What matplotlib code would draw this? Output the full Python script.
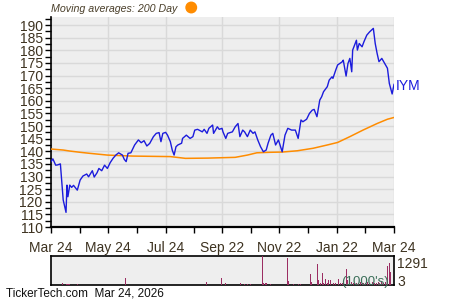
import numpy as np
import matplotlib
matplotlib.use('Agg')
import matplotlib.pyplot as plt
from matplotlib.patches import Ellipse

plt.rcParams['font.family'] = ['Liberation Sans', 'DejaVu Sans']

# data (day offsets from Mar 24)

price_days = [0, 2, 5, 7, 10, 13, 16, 17, 18, 20, 22, 24, 28, 31, 34, 38, 40, 44, 46, 49,
              51, 54, 57, 60, 63, 66, 69, 72, 76, 78, 80, 82, 85, 89, 93, 96, 99, 102, 105, 109,
              112, 115, 117, 119, 122, 124, 127, 129, 131, 133, 135, 139, 140, 144, 148, 151, 153, 156, 161, 163,
              166, 168, 172, 173, 177, 179, 182, 183, 186, 188, 193, 196, 199, 201, 204, 206, 209, 212, 215, 217,
              220, 223, 226, 229, 231, 234, 236, 239, 242, 246, 249, 252, 256, 260, 263, 266, 268, 272, 275, 278,
              280, 283, 286, 288, 290, 294, 296, 299, 300, 303, 305, 310, 311, 314, 316, 318, 320, 321, 325, 326,
              328, 331, 333, 336, 339, 343, 345, 347, 349, 352, 354, 358, 360, 363, 365]
price = [135.9, 137.0, 134.5, 134.6, 135.0, 120.7, 115.8, 126.6, 122.0, 126.6, 125.7, 126.5, 124.6, 128.6, 130.2, 131.0, 129.9, 132.3, 129.8, 131.5,
         133.2, 132.3, 134.5, 133.2, 135.5, 137.2, 138.5, 139.4, 138.5, 136.8, 135.9, 139.2, 139.4, 142.5, 144.5, 143.4, 144.2, 142.1, 143.1, 145.8,
         147.1, 147.4, 143.8, 147.1, 147.5, 146.4, 143.8, 140.5, 138.5, 141.8, 142.5, 143.2, 145.1, 146.4, 145.1, 145.8, 148.4, 148.7, 147.7, 148.7,
         147.1, 149.1, 150.4, 147.1, 149.7, 148.7, 149.1, 147.7, 145.1, 147.1, 147.7, 149.7, 151.0, 145.8, 148.4, 147.7, 145.8, 148.4, 147.1, 147.7,
         144.5, 141.8, 139.8, 140.5, 143.2, 146.4, 147.1, 142.5, 144.5, 139.8, 146.4, 149.1, 148.4, 148.4, 145.1, 152.4, 151.7, 152.7, 155.0, 156.3,
         156.6, 153.7, 160.3, 161.6, 163.6, 165.6, 168.2, 169.5, 168.9, 172.2, 174.2, 175.5, 176.1, 169.8, 174.8, 176.8, 171.5, 180.1, 184.0, 180.1,
         182.7, 181.4, 183.4, 186.0, 187.3, 188.7, 182.7, 178.8, 175.5, 176.8, 175.5, 172.9, 166.9, 162.7, 166.5]

ma_days = [0, 13, 20, 31, 41, 60, 87, 127, 143, 167, 196, 209, 219, 233, 246, 262, 279, 294, 305, 318, 332, 347, 358, 365]
ma200 = [140.9, 140.5, 140.1, 139.6, 139.2, 138.5, 138.1, 137.9, 137.2, 137.3, 137.6, 138.5, 139.4, 139.6, 139.7, 140.2, 141.2, 142.5, 143.5, 145.8, 148.4, 151.0, 152.7, 153.4]

vol_days = [12, 16, 17, 18, 19, 20, 28, 66, 79, 165, 181, 186, 202, 206, 209, 212, 225, 226, 228, 229,
            234, 252, 253, 258, 263, 265, 276, 277, 284, 285, 287, 289, 290, 292, 294, 295, 297, 299, 301, 303,
            306, 308, 310, 314, 316, 318, 320, 322, 325, 327, 329, 331, 333, 335, 337, 339, 342, 344, 346, 348,
            350, 352, 354, 356, 358, 360, 361]
volume = [104, 60, 60, 60, 60, 60, 45, 30, 325, 135, 325, 90, 110, 45, 45, 45, 1291, 110, 110, 90,
          45, 1215, 180, 45, 45, 45, 490, 135, 935, 225, 110, 550, 100, 280, 100, 220, 255, 100, 100, 90,
          280, 100, 90, 725, 220, 100, 130, 90, 110, 90, 130, 90, 110, 90, 130, 100, 130, 90, 110, 150,
          100, 130, 100, 150, 860, 980, 590]

tick_days = [0, 61, 122, 182, 243, 304, 365]
tick_labels = ['Mar 24', 'May 24', 'Jul 24', 'Sep 22', 'Nov 22', 'Jan 22', 'Mar 24']

txt = '#3d3220'
bg = '#eeeeee'
grid = '#d9d9d9'

fig = plt.figure(figsize=(4.5, 3), dpi=100)

# price panel
ax = fig.add_axes([0.1133, 0.2433, 0.7623, 0.70])
ax.set_facecolor(bg)
ax.plot(ma_days, ma200, color='#ff8c00', lw=1.1, zorder=3)
ax.plot(price_days, price, color='#1c1cdc', lw=1.0, zorder=4)
ax.set_xlim(0, 365)
ax.set_ylim(110, 193.2)
ax.set_yticks(np.arange(110, 191, 5))
ax.set_yticks(np.arange(112.5, 193, 5), minor=True)
ax.set_xticks(tick_days)
ax.set_xticklabels(tick_labels)
ax.set_xticks([(a + b) / 2 for a, b in zip(tick_days[:-1], tick_days[1:])], minor=True)
ax.grid(True, which='major', color=grid, lw=1.0, zorder=0)
ax.set_axisbelow(True)
for s in ['top', 'right']:
    ax.spines[s].set_visible(False)
ax.spines['left'].set_linewidth(1.2)
ax.spines['bottom'].set_linewidth(1.6)
ax.tick_params(axis='both', which='both', length=4, width=1, color='black',
               labelsize=10, labelcolor=txt)
ax.tick_params(axis='y', pad=2)
ax.tick_params(axis='x', pad=6)
ax.text(367, price[-1] - 0.5, 'IYM', color='#1c1cdc', fontsize=10, va='center', ha='left')

# header
fig.text(0.113, 0.970, 'Moving averages: 200 Day', fontsize=7.7, style='italic',
         color='#4a3f2a', va='center', ha='left')
fig.patches.append(Ellipse((0.4250, 0.975), 0.0233, 0.035, color='#ff8c00',
                           transform=fig.transFigure, figure=fig))

# volume panel
axv = fig.add_axes([0.1133, 0.049, 0.7623, 0.0967])
axv.set_facecolor(bg)
axv.bar(vol_days, volume, width=1.0, color='#9b2d62', zorder=3)
axv.set_xlim(0, 365)
axv.set_ylim(0, 1291)
axv.set_xticks([])
axv.set_yticks([])
for s in axv.spines.values():
    s.set_linewidth(1.2)
axv.text(1.01, 0.72, '1291', transform=axv.transAxes, fontsize=10, color=txt, va='center', ha='left')
axv.text(1.01, 0.12, '3', transform=axv.transAxes, fontsize=10, color=txt, va='center', ha='left')
axv.text(0.985, 0.12, "(1000's)", transform=axv.transAxes, fontsize=9.5, color='#3a6e58',
         va='center', ha='right', zorder=5)

fig.text(0.013, 0.02, 'TickerTech.com  Mar 24, 2026', fontsize=8.5, color='#111111',
         va='center', ha='left')

fig.savefig('out.png', dpi=100)
